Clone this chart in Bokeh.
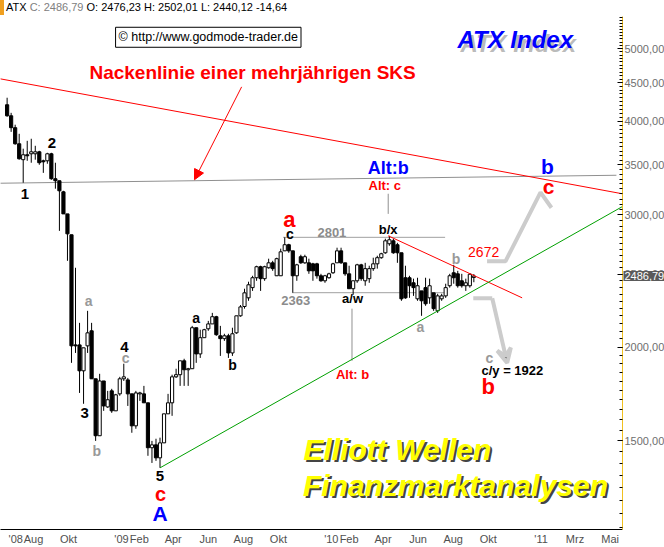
import pandas as pd
from bokeh.plotting import figure
from bokeh.layouts import column
from bokeh.models import Range1d, FixedTicker, Label, Arrow, NormalHead, VeeHead, ColumnDataSource, Div
from bokeh.embed import file_html
from bokeh.resources import INLINE

# ---------------- data (weekly ATX candles) ----------------
first_week = "2008-06-16"
opens = [4208,4068,3922,3733,3555,3609,3620,3620,3642,3543,
         3543,3620,3353,3332,3221,3010,2823,2013,2013,1859,
         2007,2102,1814,1523,1802,1664,1748,1644,1732,1814,
         1808,1732,1570,1732,1732,1685,1468,1481,1423,1490,
         1629,1685,1825,1837,1917,1865,1871,2122,1958,2058,
         2115,2147,2195,2070,2052,2070,1964,2089,2201,2265,
         2326,2400,2474,2559,2467,2551,2590,2489,2489,2687,
         2738,2687,2489,2639,2590,2590,2582,2582,2489,2451,
         2474,2512,2590,2687,2590,2504,2392,2451,2574,2451,
         2467,2544,2582,2631,2671,2746,2771,2738,2671,2474,
         2474,2436,2319,2376,2400,2326,2362,2235,2319,2340,
         2414,2512,2504,2451,2414,2414,2476.23]
highs = [4300,4105,3958,3849,3677,3767,3791,3710,3653,3555,
         3631,3631,3522,3332,3231,3010,2823,2551,2154,1995,
         2235,2154,1814,1842,1802,1748,1759,1732,1825,1900,
         1819,1732,1748,1743,1775,1685,1499,1509,1514,1629,
         1732,1837,1871,1917,1929,1876,2134,2122,2109,2115,
         2167,2221,2201,2134,2083,2083,2122,2201,2275,2392,
         2444,2489,2567,2567,2567,2623,2606,2631,2705,2801,
         2746,2687,2582,2655,2655,2623,2590,2590,2504,2496,
         2512,2590,2713,2713,2590,2567,2451,2582,2582,2590,
         2567,2631,2647,2671,2789,2814,2789,2754,2671,2567,
         2489,2467,2474,2376,2474,2467,2362,2355,2355,2429,
         2504,2574,2527,2504,2467,2510,2502.01]
lows = [4056,3872,3722,3555,3312,3543,3522,3555,3500,3414,
        3511,3342,3252,2857,3010,2606,1905,1964,1737,1680,
        1964,1814,1499,1523,1644,1659,1634,1644,1722,1802,
        1669,1537,1556,1695,1685,1432,1401,1410,1380,1490,
        1629,1619,1819,1775,1775,1775,1871,1905,1934,2058,
        2102,2147,2070,1946,2038,1934,1946,2083,2195,2250,
        2305,2376,2451,2376,2451,2544,2527,2489,2489,2687,
        2671,2363,2451,2582,2582,2504,2451,2467,2444,2436,
        2467,2504,2590,2582,2489,2392,2348,2436,2451,2414,
        2436,2527,2544,2623,2663,2729,2663,2590,2305,2319,
        2326,2340,2305,2201,2270,2284,2235,2221,2305,2326,
        2400,2429,2400,2400,2376,2400,2440.12]
closes = [4068,3922,3733,3565,3609,3598,3642,3642,3522,3532,
          3620,3353,3332,3231,3010,2831,2007,2007,1859,1995,
          2089,1814,1523,1802,1669,1701,1644,1727,1814,1825,
          1732,1570,1737,1737,1685,1468,1481,1423,1490,1629,
          1685,1825,1837,1917,1865,1871,2122,1958,2058,2109,
          2147,2195,2077,2052,2070,1964,2083,2201,2262,2362,
          2421,2474,2559,2467,2559,2590,2544,2623,2679,2738,
          2687,2489,2574,2590,2639,2527,2527,2489,2451,2489,
          2504,2582,2687,2590,2504,2392,2451,2574,2467,2544,
          2544,2582,2631,2663,2771,2780,2671,2671,2319,2326,
          2414,2400,2414,2305,2284,2414,2250,2340,2340,2400,
          2489,2474,2414,2414,2436,2501,2486.79]

tick_dates = ["2008-07-01","2008-08-01","2008-10-01","2009-01-01","2009-02-01","2009-04-01",
              "2009-06-01","2009-08-01","2009-10-01","2010-01-01","2010-02-01","2010-04-01",
              "2010-06-01","2010-08-01","2010-10-01","2011-01-01","2011-03-01","2011-05-01"]
tick_labels = ["'08","Aug","Okt","'09","Feb","Apr","Jun","Aug","Okt","'10","Feb","Apr",
               "Jun","Aug","Okt","'11","Mrz","Mai"]
price_ticks = [1500, 2000, 2500, 3000, 3500, 4000, 4500, 5000]
price_labels = ["1500,00","2000,00","2500,00","3000,00","3500,00","4000,00","4500,00","5000,00"]
last_close = 2486.79

# trend lines (date, price)
neck_red_x = ["2008-06-04", "2011-05-22"];  neck_red_y = [4557, 3202]
neck_gray_x = ["2008-06-04", "2011-05-12"]; neck_gray_y = [3307, 3389]
down_x = ["2010-04-10", "2010-11-29"];      down_y = [2814, 2326]
up_x = ["2009-03-09", "2011-05-22"];        up_y = [1380, 3077]
h2801_x = ["2009-10-09", "2010-07-18"];     h2801_y = [2801, 2801]
h2363_x = ["2009-10-25", "2010-07-18"];     h2363_y = [2363, 2363]
vc_x = ["2010-04-10", "2010-04-10"];        vc_y = [3202, 3010]
vb_x = ["2010-02-06", "2010-02-06"];        vb_y = [2250, 1917]
zig_up_x = ["2010-09-29", "2010-10-31", "2010-12-31", "2011-01-19"]
zig_up_y = [2602, 2602, 3216, 3067]
zig_dn_x = ["2010-09-05", "2010-10-08", "2010-11-03"]
zig_dn_y = [2323, 2323, 1905]

# wave labels: (date, price, text, colour, size px, style)
wave_labels = [
    ("2008-07-17", 3197, "1", "black", 15, "bold"),
    ("2008-09-02", 3744, "2", "black", 15, "bold"),
    ("2008-11-05", 2302, "a", "#999999", 14, "bold"),
    ("2008-10-29", 1634, "3", "black", 15, "bold"),
    ("2008-11-19", 1454, "b", "#999999", 14, "bold"),
    ("2009-01-06", 1998, "4", "black", 15, "bold"),
    ("2009-01-08", 1934, "c", "#999999", 14, "bold"),
    ("2009-03-09", 1344, "5", "black", 15, "bold"),
    ("2009-03-10", 1272, "c", "#ff0000", 20, "bold"),
    ("2009-03-09", 1198, "A", "#0000ff", 21, "bold"),
    ("2009-05-11", 2188, "a", "black", 14, "bold"),
    ("2009-07-13", 1894, "b", "black", 14, "bold"),
    ("2009-10-20", 2961, "a", "#ff0000", 22, "bold"),
    ("2009-10-21", 2831, "c", "black", 14, "bold"),
    ("2010-01-02", 2844, "2801", "#8c8c8c", 13, "bold"),
    ("2009-10-31", 2305, "2363", "#8c8c8c", 13, "bold"),
    ("2010-02-07", 2319, "a/w", "black", 13, "bold"),
    ("2010-02-07", 1837, "Alt: b", "#ff0000", 13, "bold"),
    ("2010-04-10", 2867, "b/x", "black", 13, "bold"),
    ("2010-04-04", 3282, "Alt: c", "#ff0000", 13, "bold"),
    ("2010-04-10", 3469, "Alt:b", "#0000ff", 18, "bold"),
    ("2010-06-05", 2128, "a", "#999999", 14, "bold"),
    ("2010-08-06", 2623, "b", "#999999", 14, "bold"),
    ("2010-09-23", 2679, "2672", "#ff0000", 14, "normal"),
    ("2010-10-03", 1932, "c", "#999999", 14, "bold"),
    ("2010-11-12", 1859, "c/y = 1922", "black", 13, "bold"),
    ("2010-10-01", 1770, "b", "#ff0000", 22, "bold"),
    ("2011-01-12", 3479, "b", "#0000ff", 21, "bold"),
    ("2011-01-14", 3272, "c", "#ff0000", 21, "bold"),
]

# ---------------- figure ----------------
def ms(d):
    return pd.Timestamp(d).value / 1e6

FONT = "Liberation Sans"
x_start = pd.Timestamp("2008-06-04 12:00")
x_end = pd.Timestamp("2011-05-22 14:24")

p = figure(x_axis_type="datetime", y_axis_type="log", y_axis_location="right",
           x_range=Range1d(x_start, x_end), y_range=Range1d(1142, 5518),
           frame_width=622, frame_height=513,
           min_border_left=0, min_border_right=0, min_border_top=0, min_border_bottom=0,
           output_backend="svg", toolbar_location=None)
p.outline_line_color = None
p.xgrid.visible = False
p.ygrid.visible = False
p.background_fill_color = "white"
p.border_fill_color = "white"

# axes
p.xaxis.ticker = FixedTicker(ticks=[ms(d) for d in tick_dates])
p.xaxis.major_label_overrides = {int(ms(d)): t for d, t in zip(tick_dates, tick_labels)}
p.xaxis.axis_line_color = "black"
p.xaxis.major_tick_out = 0
p.xaxis.major_tick_in = 0
p.xaxis.minor_tick_out = 0
p.xaxis.major_label_standoff = 3
p.xaxis.major_label_text_font = FONT
p.xaxis.major_label_text_font_size = "11px"
p.xaxis.major_label_text_color = "#505050"

p.yaxis.ticker = FixedTicker(ticks=price_ticks, minor_ticks=list(range(1150, 5550, 50)))
p.yaxis.major_label_overrides = {t: l for t, l in zip(price_ticks, price_labels)}
p.yaxis.axis_line_color = "#f0c020"
p.yaxis.axis_line_width = 1
p.yaxis.major_tick_in = 5
p.yaxis.major_tick_out = 0
p.yaxis.minor_tick_in = 3
p.yaxis.minor_tick_out = 0
p.yaxis.major_tick_line_color = "black"
p.yaxis.minor_tick_line_color = "black"
p.yaxis.major_label_standoff = 2
p.yaxis.major_label_text_font = FONT
p.yaxis.major_label_text_font_size = "11px"
p.yaxis.major_label_text_color = "#6e6e6e"

# trend lines
def line(xs, ys, color, width=1):
    p.line([pd.Timestamp(x) for x in xs], ys, line_color=color, line_width=width)

line(neck_gray_x, neck_gray_y, "#909090")
line(h2801_x, h2801_y, "#a0a0a0")
line(h2363_x, h2363_y, "#a0a0a0")
line(vc_x, vc_y, "#909090")
line(vb_x, vb_y, "#909090")
line(zig_up_x, zig_up_y, "#cccccc", 4)
line(zig_dn_x[:2], zig_dn_y[:2], "#cccccc", 4)
p.add_layout(Arrow(end=VeeHead(size=14, line_color="#cccccc", line_width=4),
                   x_start=ms(zig_dn_x[1]), y_start=zig_dn_y[1],
                   x_end=ms(zig_dn_x[2]), y_end=zig_dn_y[2],
                   line_color="#cccccc", line_width=4))

# candles
dates = pd.date_range(first_week, periods=len(opens), freq="7D")
up = [c >= o for o, c in zip(opens, closes)]
src = ColumnDataSource(dict(
    x=dates, o=opens, h=highs, l=lows, c=closes,
    top=[max(o, c) for o, c in zip(opens, closes)],
    bottom=[min(o, c) for o, c in zip(opens, closes)],
    fill=["white" if u else "black" for u in up]))
p.segment(x0="x", y0="l", x1="x", y1="h", source=src, line_color="black", line_width=1)
p.vbar(x="x", width=5.5 * 86400000, top="top", bottom="bottom", source=src,
       fill_color="fill", line_color="black", line_width=1)

line(neck_red_x, neck_red_y, "#ff0000")
line(down_x, down_y, "#ff0000")
line(up_x, up_y, "#00a000")

# red arrow from the neckline note
p.add_layout(Arrow(end=NormalHead(size=10, fill_color="#ff0000", line_color="#ff0000"),
                   x_start=ms("2009-07-29"), y_start=4446, x_end=ms("2009-05-08"), y_end=3343,
                   line_color="#ff0000", line_width=1))

def label(x, y, text, color="black", size=12, style="normal", align="center", **kw):
    p.add_layout(Label(x=ms(x), y=y, text=text, text_color=color, text_font=FONT,
                       text_font_size=f"{size}px", text_font_style=style,
                       text_align=align, text_baseline="middle", **kw))

for d, y, t, c, s, st in wave_labels:
    label(d, y, t, c, s, st)

# titles / notes
label("2009-08-17", 4642, "Nackenlinie einer mehrjährigen SKS", "#ff0000", 19, "bold")
label("2010-11-17", 5145, "ATX Index", "#808080", 24, "bold italic", x_offset=3, y_offset=-4, text_alpha=0.55)
label("2010-11-17", 5145, "ATX Index", "#0000ff", 24, "bold italic")
label("2010-04-26", 1459, "Elliott Wellen", "#444444", 30, "bold italic", x_offset=2, y_offset=-2)
label("2010-04-26", 1459, "Elliott Wellen", "#ffff00", 30, "bold italic")
label("2010-08-05", 1306, "Finanzmarktanalysen", "#444444", 30, "bold italic", x_offset=2, y_offset=-2)
label("2010-08-05", 1306, "Finanzmarktanalysen", "#ffff00", 30, "bold italic")
label("2009-06-01", 5177, "© http://www.godmode-trader.de", "black", 12.5, "normal",
      border_line_color="black", background_fill_color="white", padding=3)

# last price marker on the price axis: placed in the right side panel so it is not clipped
p.add_layout(Label(x=ms("2011-05-24 07:00"), y=last_close, text="2486,79", text_color="white",
                   text_font=FONT, text_font_size="11px", text_align="left", text_baseline="middle",
                   background_fill_color="#5a5a5a", padding=1), "right")

# header line above the chart
header = Div(
    text=('<span style="display:inline-block;width:4px;height:15px;background:#f0a020;'
          'vertical-align:top;margin-right:2px"></span>'
          'ATX <span style="color:#808080">C: 2486,79</span> O: 2476,23 H: 2502,01 L: 2440,12 -14,64'),
    width=664, height=16, margin=(0, 0, 0, 0),
    styles={"font-family": FONT, "font-size": "11px", "line-height": "15px",
            "white-space": "nowrap", "color": "black"})

layout = column(header, p, spacing=0, margin=(0, 0, 0, 0))
open("out.html", "w").write(file_html(layout, INLINE))
